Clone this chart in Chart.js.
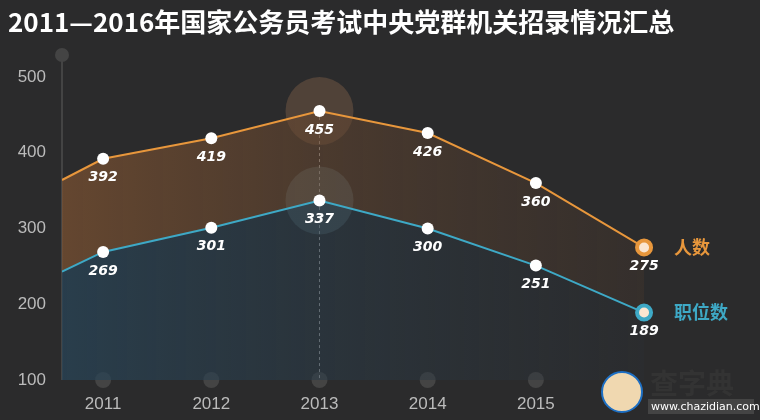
<!DOCTYPE html>
<html>
<head>
<meta charset="utf-8">
<script src="https://cdn.jsdelivr.net/npm/chart.js@4"></script>
<style>
  body { margin: 0; background: #2b2b2c; }
  #wrap { width: 760px; height: 420px; }
</style>
</head>
<body>
<div id="wrap"><canvas id="myChart" width="760" height="420"></canvas></div>
<script>
// data (first x is the line stub at the left edge)
const years = [2010.62, 2011, 2012, 2013, 2014, 2015, 2016];
const people = [364, 392, 419, 455, 426, 360, 275];
const posts = [243, 269, 301, 337, 300, 251, 189];
const tickYears = [2011, 2012, 2013, 2014, 2015];
const title = '2011—2016年国家公务员考试中央党群机关招录情况汇总';

const orange = '#e8973c';
const blue = '#3ea9c6';

function pts(vals) {
    return years.map((x, i) => ({ x: x, y: vals[i] }));
}
function radii() {
    return years.map((x, i) => i == 0 ? 0 : (i == years.length - 1 ? 7 : 6));
}

const decor = {
    id: 'decor',
    beforeDatasetsDraw(chart) {
        const c = chart.ctx, xs = chart.scales.x, ys = chart.scales.y, a = chart.chartArea;
        c.save();
        // axis line + dots
        c.strokeStyle = '#444';
        c.lineWidth = 2;
        c.beginPath(); c.moveTo(a.left, a.top); c.lineTo(a.left, a.bottom); c.stroke();
        c.fillStyle = '#444';
        c.beginPath(); c.arc(a.left, a.top, 7, 0, Math.PI * 2); c.fill();
        tickYears.forEach(y => {
            c.beginPath(); c.arc(xs.getPixelForValue(y), a.bottom, 8, 0, Math.PI * 2); c.fill();
        });
        // dashed guide at 2013
        const x13 = xs.getPixelForValue(2013);
        c.strokeStyle = '#aaa'; c.lineWidth = 1; c.setLineDash([3, 3]);
        c.beginPath(); c.moveTo(x13, ys.getPixelForValue(455)); c.lineTo(x13, a.bottom); c.stroke();
        c.setLineDash([]);
        // halos
        c.fillStyle = 'rgba(150,110,80,0.35)';
        c.beginPath(); c.arc(x13, ys.getPixelForValue(455), 34, 0, Math.PI * 2); c.fill();
        c.fillStyle = 'rgba(110,140,150,0.35)';
        c.beginPath(); c.arc(x13, ys.getPixelForValue(337), 34, 0, Math.PI * 2); c.fill();
        c.restore();
    },
    afterDatasetsDraw(chart) {
        const c = chart.ctx, xs = chart.scales.x, ys = chart.scales.y;
        c.save();
        c.font = 'italic bold 14px "DejaVu Sans"';
        c.fillStyle = '#fff';
        c.textAlign = 'center';
        c.textBaseline = 'top';
        [people, posts].forEach(vals => {
            vals.forEach((v, i) => {
                if (i == 0) return;
                c.fillText(v, xs.getPixelForValue(years[i]), ys.getPixelForValue(v) + 12);
            });
        });
        const xl = xs.getPixelForValue(2016) + 30;
        c.font = 'bold 18px "Noto Sans CJK SC"';
        c.textAlign = 'left';
        c.textBaseline = 'middle';
        c.fillStyle = orange;
        c.fillText('人数', xl, ys.getPixelForValue(275));
        c.fillStyle = blue;
        c.fillText('职位数', xl, ys.getPixelForValue(189));
        // title
        c.font = 'bold 26px "Noto Sans CJK SC"';
        c.fillStyle = '#fff';
        c.textBaseline = 'middle';
        c.fillText(title, 8, 22);
        // watermark
        c.font = 'bold 28px "Noto Sans CJK SC"';
        c.fillStyle = '#333';
        c.fillText('查字典', 650, 383);
        c.fillStyle = '#444';
        c.fillRect(648, 399, 106, 15);
        c.font = '11px "DejaVu Sans"';
        c.fillStyle = '#fff';
        c.fillText('www.chazidian.com', 651, 407);
        c.strokeStyle = '#1d6fc4'; c.lineWidth = 2;
        c.fillStyle = '#f0d8b0';
        c.beginPath(); c.arc(622, 392, 20, 0, Math.PI * 2); c.fill(); c.stroke();
        c.restore();
    }
};

const ctx = document.getElementById('myChart').getContext('2d');
const gOrange = ctx.createLinearGradient(0, 0, 760, 0);
gOrange.addColorStop(0, 'rgba(130,85,50,0.75)');
gOrange.addColorStop(1, 'rgba(60,50,45,0.3)');
const gBlue = ctx.createLinearGradient(0, 0, 760, 0);
gBlue.addColorStop(0, 'rgba(40,70,90,0.8)');
gBlue.addColorStop(1, 'rgba(45,45,48,0.2)');

new Chart(ctx, {
    type: 'line',
    data: {
        datasets: [{
            data: pts(people),
            order: 1,
            borderColor: orange,
            borderWidth: 2,
            backgroundColor: gOrange,
            fill: '+1',
            tension: 0,
            pointRadius: radii(),
            pointBackgroundColor: years.map((x, i) => i == years.length - 1 ? '#fbe6d0' : '#fff'),
            pointBorderColor: years.map((x, i) => i == years.length - 1 ? orange : '#fff'),
            pointBorderWidth: years.map((x, i) => i == years.length - 1 ? 4 : 0)
        }, {
            data: pts(posts),
            order: 0,
            borderColor: blue,
            borderWidth: 2,
            backgroundColor: gBlue,
            fill: 'origin',
            tension: 0,
            pointRadius: radii(),
            pointBackgroundColor: years.map((x, i) => i == years.length - 1 ? '#fbe6d0' : '#fff'),
            pointBorderColor: years.map((x, i) => i == years.length - 1 ? blue : '#fff'),
            pointBorderWidth: years.map((x, i) => i == years.length - 1 ? 4 : 0)
        }]
    },
    options: {
        responsive: false,
        animation: false,
        layout: { padding: { top: 55, right: 0, left: 0, bottom: 0 } },
        plugins: { legend: { display: false }, tooltip: { enabled: false } },
        scales: {
            x: {
                type: 'linear',
                min: 2010.62,
                max: 2016.97,
                afterFit: s => { s.height = 40; },
                afterBuildTicks: s => { s.ticks = tickYears.map(v => ({ value: v })); },
                grid: { display: false },
                border: { display: false },
                ticks: { color: '#bbb', font: { family: 'Liberation Sans Narrow, Liberation Sans', size: 17 }, callback: v => String(v), padding: 6 }
            },
            y: {
                min: 100,
                max: 529,
                afterFit: s => { s.width = 62; },
                afterBuildTicks: s => { s.ticks = [100, 200, 300, 400, 500].map(v => ({ value: v })); },
                grid: { display: false },
                border: { display: false },
                ticks: { color: '#bbb', font: { family: 'Liberation Sans Narrow, Liberation Sans', size: 17 }, padding: 8 }
            }
        }
    },
    plugins: [decor]
});
</script>
</body>
</html>
